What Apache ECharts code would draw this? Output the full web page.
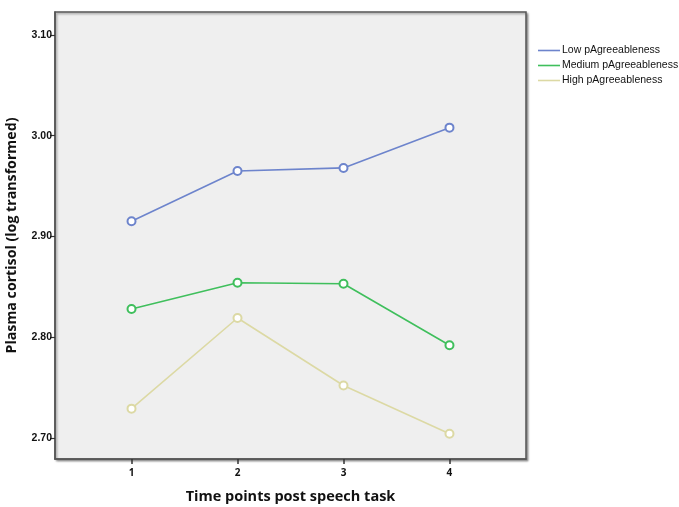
<!DOCTYPE html>
<html>
<head>
<meta charset="utf-8">
<script src="https://cdn.jsdelivr.net/npm/echarts@6/dist/echarts.min.js"></script>
<style>html,body{margin:0;padding:0;background:#fff;}#c{width:679px;height:507px;}</style>
</head>
<body>
<div id="c"></div>
<script>
const timePoints = [1, 2, 3, 4];
const lowAgree = [2.915, 2.965, 2.968, 3.008];
const mediumAgree = [2.828, 2.854, 2.853, 2.792];
const highAgree = [2.729, 2.819, 2.752, 2.704];
const yTicks = [2.70, 2.80, 2.90, 3.00, 3.10];
const seriesNames = ['Low pAgreeableness', 'Medium pAgreeableness', 'High pAgreeableness'];
const colors = ['#6d84cc', '#3fbf5c', '#dcd9a4'];

const chart = echarts.init(document.getElementById('c'), null, {renderer: 'canvas'});
const mk = (name, vals, color) => ({
  name: name,
  type: 'line',
  data: timePoints.map((t, i) => [t, vals[i]]),
  symbol: 'emptyCircle',
  symbolSize: 8,
  lineStyle: {color: color, width: 1.6},
  itemStyle: {color: color, borderWidth: 1.3},
  emphasis: {disabled: true},
  animation: false
});
chart.setOption({
  animation: false,
  grid: {
    left: 55, top: 12, width: 471, height: 447,
    outerBoundsMode: 'none', containLabel: false,
    show: true, backgroundColor: '#efefef', borderColor: '#555', borderWidth: 1.5,
    shadowColor: 'rgba(0,0,0,0.35)', shadowBlur: 2, shadowOffsetX: 1.5, shadowOffsetY: 1.5
  },
  legend: {
    orient: 'vertical', left: 533, top: 40, itemGap: 4,
    icon: 'rect', itemWidth: 22, itemHeight: 1.6,
    textStyle: {fontFamily: 'Liberation Sans, Arial', fontSize: 10.5, color: '#111', padding: [0,0,0,-3]},
    data: seriesNames.map((n, i) => ({name: n, itemStyle: {color: colors[i], borderWidth: 0}}))
  },
  xAxis: {
    type: 'value', min: 0.278, max: 4.722,
    name: 'Time points post speech task', nameLocation: 'middle', nameGap: 30,
    nameTextStyle: {fontFamily: 'Open Sans', fontWeight: 'bold', fontSize: 14.5, color: '#111'},
    axisLine: {show: true, lineStyle: {color: '#555', width: 1.5}},
    axisTick: {show: true, length: 5, customValues: timePoints, lineStyle: {color: '#333', width: 1.5}},
    axisLabel: {customValues: timePoints, fontFamily: 'Open Sans', fontWeight: 'bold', fontSize: 10, color: '#111', margin: 9},
    splitLine: {show: false}
  },
  yAxis: {
    type: 'value', min: 2.679, max: 3.1228,
    name: 'Plasma cortisol (log transformed)', nameLocation: 'middle', nameGap: 36,
    nameTextStyle: {fontFamily: 'Open Sans', fontWeight: 'bold', fontSize: 14.2, color: '#111'},
    axisLine: {show: true, lineStyle: {color: '#555', width: 1.5}},
    axisTick: {show: true, length: 5, customValues: yTicks, lineStyle: {color: '#333', width: 1.2}},
    axisLabel: {customValues: yTicks, formatter: v => v.toFixed(2), fontFamily: 'Liberation Sans, Arial', fontWeight: 'bold', fontSize: 10.5, color: '#111', margin: 3},
    splitLine: {show: false}
  },
  series: [
    mk(seriesNames[0], lowAgree, colors[0]),
    mk(seriesNames[1], mediumAgree, colors[1]),
    mk(seriesNames[2], highAgree, colors[2])
  ]
});
</script>
</body>
</html>
